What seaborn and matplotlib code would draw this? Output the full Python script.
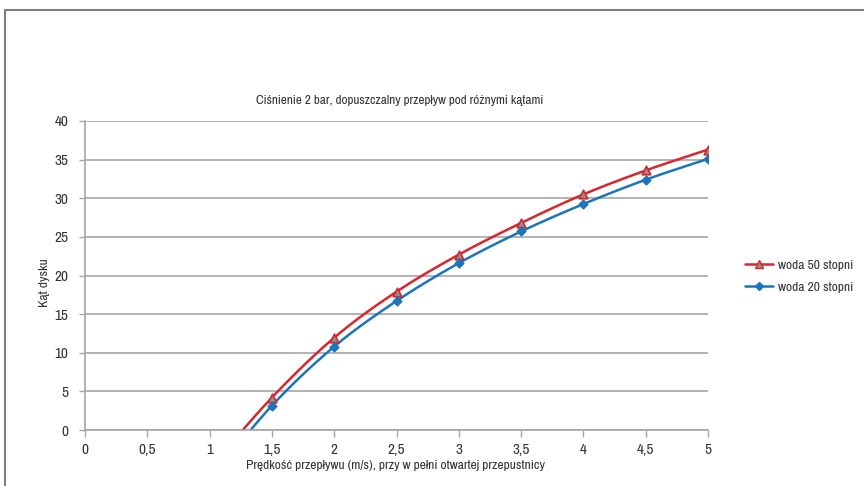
import numpy as np
import pandas as pd
import matplotlib
matplotlib.use("Agg")
import matplotlib.pyplot as plt
import seaborn as sns
from matplotlib import font_manager as fm
from matplotlib.patches import Rectangle
from matplotlib.lines import Line2D

# ---- data ----
x_vals = [1.0, 1.5, 2.0, 2.5, 3.0, 3.5, 4.0, 4.5, 5.0]
woda50 = [-5.0, 4.2, 11.95, 17.9, 22.7, 26.8, 30.5, 33.6, 36.3]
woda20 = [-6.5, 3.15, 10.8, 16.7, 21.6, 25.7, 29.25, 32.4, 35.1]
series_names = ["woda 50 stopni", "woda 20 stopni"]
x_ticks = [0, 0.5, 1, 1.5, 2, 2.5, 3, 3.5, 4, 4.5, 5]
x_tick_labels = ["0", "0,5", "1", "1,5", "2", "2,5", "3", "3,5", "4", "4,5", "5"]
y_ticks = [0, 5, 10, 15, 20, 25, 30, 35, 40]
title = "Ciśnienie 2 bar, dopuszczalny przepływ pod różnymi kątami"
xlabel = "Prędkość przepływu (m/s), przy w pełni otwartej przepustnicy"
ylabel = "Kąt dysku"

sns.set_theme(style="white")
fonts = fm.fontManager.ttflist
narrow = [f.name for f in fonts if "Narrow" in f.name or "Condensed" in f.name]
stretch = "normal"
if narrow:
    fam = narrow[0]
else:
    cond = [f for f in fonts if f.name in ("DejaVu Sans", "Roboto", "Open Sans")
            and str(f.stretch) in ("condensed", "semi-condensed", "75", "87.5")]
    if cond:
        fam = cond[0].name
        stretch = cond[0].stretch
    else:
        fam = "Liberation Sans"
plt.rcParams["font.family"] = [fam, "DejaVu Sans"]
plt.rcParams["font.stretch"] = stretch

RED = "#d9252d"
BLUE = "#1b75bb"
GRID = "#a6a6a6"
TXT = "#333333"


def smooth(xs, ys, n=40):
    """Catmull-Rom spline used only to render the smoothed line through data points."""
    xs = np.asarray(xs, float)
    ys = np.asarray(ys, float)
    px, py = [], []
    m = len(xs)
    for i in range(m - 1):
        p0 = (xs[max(i - 1, 0)], ys[max(i - 1, 0)])
        p1 = (xs[i], ys[i])
        p2 = (xs[i + 1], ys[i + 1])
        p3 = (xs[min(i + 2, m - 1)], ys[min(i + 2, m - 1)])
        t = np.linspace(0, 1, n)
        tx1 = (p2[0] - p0[0]) / 2
        ty1 = (p2[1] - p0[1]) / 2
        tx2 = (p3[0] - p1[0]) / 2
        ty2 = (p3[1] - p1[1]) / 2
        h00 = 2 * t**3 - 3 * t**2 + 1
        h10 = t**3 - 2 * t**2 + t
        h01 = -2 * t**3 + 3 * t**2
        h11 = t**3 - t**2
        px.extend(h00 * p1[0] + h10 * tx1 + h01 * p2[0] + h11 * tx2)
        py.extend(h00 * p1[1] + h10 * ty1 + h01 * p2[1] + h11 * ty2)
    return np.array(px), np.array(py)


fig = plt.figure(figsize=(8.64, 4.86), dpi=100)
fig.patch.set_facecolor("white")
ax = fig.add_axes([85 / 864, 1 - 430 / 486, (708 - 85) / 864, (430 - 121) / 486])
renderer = fig.canvas.get_renderer()


def fit_width(txt, target_px, size0, horizontal=True):
    txt.set_fontsize(size0)
    bb = txt.get_window_extent(renderer)
    w = bb.width if horizontal else bb.height
    txt.set_fontsize(size0 * target_px / w)
    return size0 * target_px / w


for ys, col in [(woda50, RED), (woda20, BLUE)]:
    sx, sy = smooth(x_vals, ys)
    sns.lineplot(x=sx, y=sy, ax=ax, color=col, lw=1.8, sort=False, legend=False)

df = pd.DataFrame({"x": x_vals * 2, "y": woda50 + woda20,
                   "s": [series_names[0]] * len(x_vals) + [series_names[1]] * len(x_vals)})
d50 = df[df.s == series_names[0]]
d20 = df[df.s == series_names[1]]
ax.scatter(d50.x, d50.y, marker="^", s=38, facecolor="#8f8f8f", edgecolor=RED, linewidth=1.2, zorder=5)
ax.scatter(d20.x, d20.y, marker="D", s=20, facecolor=BLUE, edgecolor=BLUE, linewidth=1.0, zorder=5)

ax.set_xlim(0, 5)
ax.set_ylim(0, 40)
ax.set_xticks(x_ticks)
ax.set_yticks(y_ticks)
ax.yaxis.grid(True, color=GRID, lw=1.2)
ax.xaxis.grid(False)
for s in ["top", "right"]:
    ax.spines[s].set_visible(False)
for s in ["left", "bottom"]:
    ax.spines[s].set_color(GRID)
    ax.spines[s].set_linewidth(1.2)
ax.tick_params(axis="x", which="both", bottom=True, length=5, width=1, color=GRID, pad=4)
ax.tick_params(axis="y", which="both", left=True, length=4, width=1, color=GRID, pad=8)
ax.set_axisbelow(True)

xt = ax.set_xticklabels(x_tick_labels, color=TXT)
yt = ax.set_yticklabels([str(v) for v in y_ticks], color=TXT)
probe = fig.text(0, 0, "20", fontsize=11)
tick_size = fit_width(probe, 14, 11)
probe.remove()
tick_size = min(max(tick_size, 9), 13)
for t in list(xt) + list(yt):
    t.set_fontsize(tick_size)

xl = fig.text(396 / 864, 1 - 465 / 486, xlabel, ha="center", va="center", color=TXT)
fit_width(xl, 300, 10)
yl = fig.text(44 / 864, 1 - 283 / 486, ylabel, ha="center", va="center", rotation=90, color=TXT)
fit_width(yl, 49, 10, horizontal=False)
tt = fig.text(400 / 864, 1 - 100 / 486, title, ha="center", va="center", color=TXT)
fit_width(tt, 290, 10)

probe = fig.text(0, 0, series_names[0], fontsize=10)
leg_size = fit_width(probe, 75, 10)
probe.remove()

h1 = Line2D([], [], color=RED, lw=1.8, marker="^", markersize=6, markerfacecolor="#8f8f8f",
            markeredgecolor=RED)
h2 = Line2D([], [], color=BLUE, lw=1.8, marker="D", markersize=4.5, markerfacecolor=BLUE,
            markeredgecolor=BLUE)
fig.legend([h1, h2], series_names, loc="center left",
           bbox_to_anchor=(745 / 864, 1 - 276 / 486), frameon=False,
           fontsize=leg_size, handlelength=2.05, handletextpad=0.4, labelspacing=0.75,
           labelcolor=TXT, borderaxespad=0, borderpad=0)

fig.add_artist(Rectangle((5 / 864, -0.05), 1.2, 1 - 10 / 486 + 0.05, transform=fig.transFigure,
                         fill=False, edgecolor="#7f7f7f", lw=1.5))

fig.savefig("out.png", dpi=100)
